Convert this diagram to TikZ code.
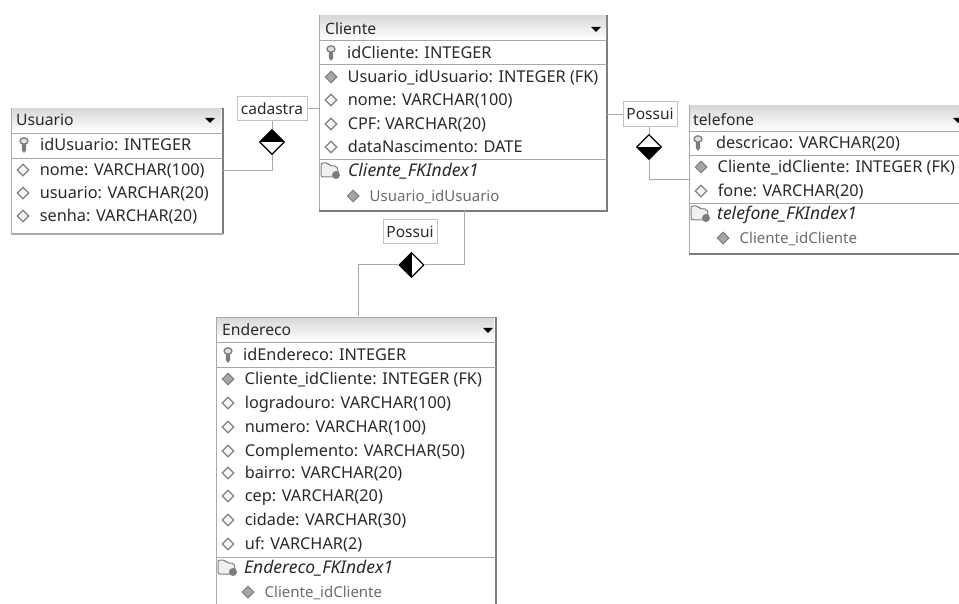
\documentclass[tikz,border=0pt]{standalone}
\usepackage{fontspec}
\setmainfont{Noto Sans}
\usetikzlibrary{shapes.geometric,positioning,calc}
\definecolor{edgegray}{HTML}{A8A8A8}
\definecolor{shadegray}{HTML}{7C7C7C}
\definecolor{inkgray}{HTML}{2A2A2A}
\newcommand{\colrows}[3]{\foreach \ly/\ic/\txt in {#3}{\node[\ic] (#1-i\ly) at ($(#2,\ly)+(12,0)$) {};\node[coltext,right=10pt of #1-i\ly] (#1-t\ly) {\txt};}}
\begin{document}
\begin{tikzpicture}[x=1pt,y=-1pt,
tbl/.style={draw=edgegray,line width=1pt,fill=white,anchor=north west,inner sep=0},
coltext/.style={font=\fontsize{16.3}{18}\selectfont,text=inkgray,inner sep=0,text height=11.5pt,text depth=0pt},
hdrtext/.style={coltext,font=\fontsize{15.7}{18}\selectfont,anchor=west},
idxtext/.style={coltext,font=\fontsize{17.5}{18}\selectfont\itshape,anchor=west},
idxcol/.style={coltext,font=\fontsize{15}{18}\selectfont,text=gray!85!black},
fkic/.style={diamond,draw=shadegray,fill=gray!70,minimum size=12pt,inner sep=0,line width=1pt},
plainic/.style={diamond,draw=gray,fill=gray!8,minimum size=12pt,inner sep=0,line width=1.2pt},
arrowic/.style={isosceles triangle,shape border rotate=-90,isosceles triangle stretches,fill=black,minimum width=10pt,minimum height=5pt,inner sep=0},
rel/.style={draw=edgegray!70,fill=white,line width=1pt,inner sep=0,font=\fontsize{15.5}{17}\selectfont,text=inkgray,text height=11pt,text depth=0pt},
dia/.style={diamond,draw=black,fill=white,line width=1.2pt,minimum size=25pt,inner sep=0},
keyic/.pic={\draw[shadegray,fill=gray!25,line width=1.3pt] (0,-4) ellipse (4pt and 3.2pt);\fill[shadegray] (-2.2,-1)--(2.2,-1)--(2.2,5)--(0,8)--(-2.2,5)--cycle;},
idxic/.pic={\draw[gray,fill=gray!12,rounded corners=2pt,line width=1pt] (-10,-8)--(-3,-8)--(-1,-5)--(6,-5)--(8,6)--(-10,6)--cycle;\fill[shadegray] (5,4) circle (4pt);}]
\clip (0,0) rectangle (959,604);
\useasboundingbox (0,0) rectangle (959,604);
% tables
\node[tbl,minimum width=287pt,minimum height=195pt] (cliente) at (319,15) {};
\node[tbl,minimum width=211pt,minimum height=125pt] (usuario) at (11,108) {};
\node[tbl,minimum width=300pt,minimum height=148pt] (telefone) at (689,105) {};
\node[tbl,minimum width=279pt,minimum height=320pt] (endereco) at (216,317) {};
\draw[shadegray,line width=2pt] (cliente.north east)--(cliente.south east)--(cliente.south west);
\draw[shadegray,line width=2pt] (usuario.north east)--(usuario.south east);
\draw[edgegray,line width=2pt] (usuario.south east)--(usuario.south west);
\draw[shadegray,line width=1.6pt] (telefone.south east)--(telefone.south west);
\draw[shadegray,line width=2pt] (endereco.north east)--(endereco.south east);
\shade[top color=gray!30,bottom color=white] (320,16) rectangle (606,39);
\shade[top color=gray!30,bottom color=white] (12,109) rectangle (221,132);
\shade[top color=gray!30,bottom color=white] (690,106) rectangle (959,130);
\shade[top color=gray!30,bottom color=white] (217,318) rectangle (494,341);
\foreach \ya in {40,64,159}{\draw[edgegray] (cliente.west |- 0,\ya)--(cliente.east |- 0,\ya);}
\foreach \ya in {133,158}{\draw[edgegray] (usuario.west |- 0,\ya)--(usuario.east |- 0,\ya);}
\foreach \ya in {131,155,203}{\draw[edgegray] (telefone.west |- 0,\ya)--(telefone.east |- 0,\ya);}
\foreach \ya in {342,367,557}{\draw[edgegray] (endereco.west |- 0,\ya)--(endereco.east |- 0,\ya);}
% headers
\node[hdrtext] (clienteH) at (325,29) {Cliente};
\node[hdrtext] (usuarioH) at (16,120) {Usuario};
\node[hdrtext] (telefoneH) at (693,120) {telefone};
\node[hdrtext] (enderecoH) at (222,330) {Endereco};
\node[arrowic] (clienteA) at (596,29) {};
\node[arrowic] (usuarioA) at (210,120) {};
\node[arrowic] (telefoneA) at (958,120) {};
\node[arrowic] (enderecoA) at (488,330) {};
% columns
\pic at (331,53) {keyic};
\pic at (24,145) {keyic};
\pic at (698,143) {keyic};
\pic at (228,355) {keyic};
\node[coltext,anchor=west] (clienteK) at (347,53) {idCliente: INTEGER};
\node[coltext,anchor=west] (usuarioK) at (40,145) {idUsuario: INTEGER};
\node[coltext,anchor=west] (telefoneK) at (716,143) {descricao: VARCHAR(20)};
\node[coltext,anchor=west] (enderecoK) at (243,355) {idEndereco: INTEGER};
\colrows{cliente}{319}{77/fkic/Usuario\_idUsuario: INTEGER (FK),100/plainic/nome: VARCHAR(100),124/plainic/CPF: VARCHAR(20),147/plainic/dataNascimento: DATE}
\colrows{usuario}{11}{170/plainic/nome: VARCHAR(100),193/plainic/usuario: VARCHAR(20),216/plainic/senha: VARCHAR(20)}
\colrows{telefone}{689}{167/fkic/Cliente\_idCliente: INTEGER (FK),191/plainic/fone: VARCHAR(20)}
\colrows{endereco}{216}{379/fkic/Cliente\_idCliente: INTEGER (FK),403/plainic/logradouro: VARCHAR(100),427/plainic/numero: VARCHAR(100),451/plainic/Complemento: VARCHAR(50),473/plainic/bairro: VARCHAR(20),496/plainic/cep: VARCHAR(20),520/plainic/cidade: VARCHAR(30),544/plainic/uf: VARCHAR(2)}
% indexes
\pic at (331,171) {idxic};
\pic at (701,214) {idxic};
\pic at (228,568) {idxic};
\node[idxtext] (clienteX) at (348,171) {Cliente\_FKIndex1};
\node[idxtext] (telefoneX) at (717,214) {telefone\_FKIndex1};
\node[idxtext] (enderecoX) at (244,568) {Endereco\_FKIndex1};
\node[fkic] (clienteC) at (353,196) {};
\node[fkic] (telefoneC) at (723,238) {};
\node[fkic] (enderecoC) at (248,592) {};
\node[idxcol,right=10pt of clienteC] (clienteD) {Usuario\_idUsuario};
\node[idxcol,right=10pt of telefoneC] (telefoneD) {Cliente\_idCliente};
\node[idxcol,right=10pt of enderecoC] (enderecoD) {Cliente\_idCliente};
% relationships
\node[rel,minimum width=70pt,minimum height=24pt] (cadastra) at (272,109) {cadastra};
\node[rel,minimum width=54pt,minimum height=24pt] (possuiE) at (410,232) {Possui};
\node[rel,minimum width=54pt,minimum height=25pt] (possuiT) at (650,114.5) {Possui};
\node[dia,path picture={\fill[black] (path picture bounding box.north west) rectangle (path picture bounding box.east);}] (diaC) at (272,142) {};
\node[dia,path picture={\fill[black] (path picture bounding box.north west) rectangle (path picture bounding box.south);}] (diaE) at (411.5,265) {};
\node[dia,path picture={\fill[black] (path picture bounding box.west) rectangle (path picture bounding box.south east);}] (diaT) at (649,147) {};
\coordinate (usuarioE) at (usuario.east |- 0,171);
\coordinate (enderecoN) at (358,316);
\coordinate (clienteS) at (464,210);
\coordinate (telefoneW) at (telefone.west |- 0,180);
\draw[edgegray,line width=1pt] (cadastra.east)--(cadastra.east -| cliente.west);
\draw[edgegray,line width=1pt] (cadastra.south -| diaC)--(diaC.north);
\draw[edgegray,line width=1pt] (diaC.south)|-(usuarioE);
\draw[edgegray,line width=1pt] (enderecoN)|-(diaE.west);
\draw[edgegray,line width=1pt] (diaE.east)-|(clienteS);
\draw[edgegray,line width=1pt] (cliente.east |- possuiT)--(possuiT.west);
\draw[edgegray,line width=1pt] (possuiT.south -| diaT)--(diaT.north);
\draw[edgegray,line width=1pt] (diaT.south)|-(telefoneW);
\end{tikzpicture}
\end{document}
